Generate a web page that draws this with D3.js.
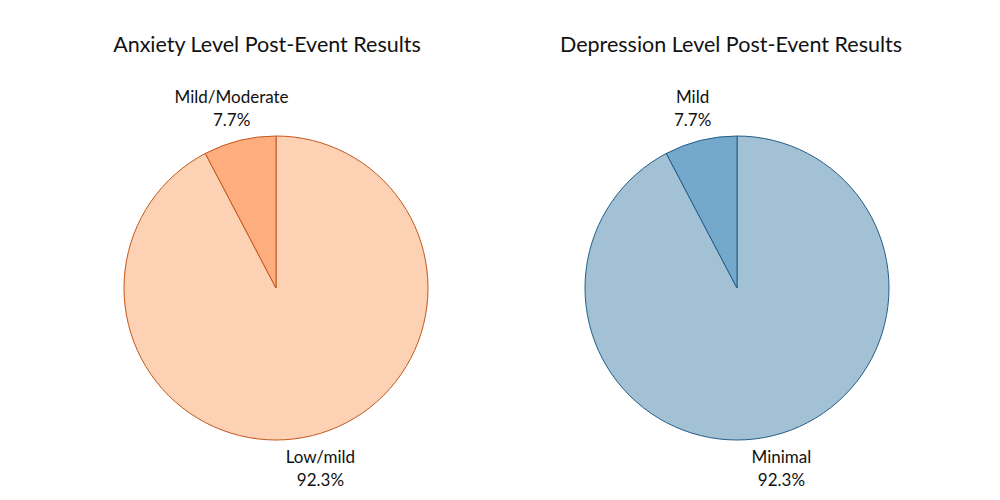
<!DOCTYPE html>
<html><head><meta charset="utf-8">
<script src="https://cdn.jsdelivr.net/npm/d3@7"></script>
<style>body{margin:0;background:#fff}svg{display:block}</style>
</head><body>
<script>
const anxietyTitle = "Anxiety Level Post-Event Results";
const depressionTitle = "Depression Level Post-Event Results";
const anxietyCategories = ["Low/mild", "Mild/Moderate"];
const anxietyValues = [92.3, 7.7];
const depressionCategories = ["Minimal", "Mild"];
const depressionValues = [92.3, 7.7];

const W = 1000, H = 500;
const svg = d3.select("body").append("svg").attr("width", W).attr("height", H);
const font = "Lato, 'Open Sans', sans-serif";

function drawPie(cx, cy, r, title, titleX, cats, vals, fills, stroke) {
  const g = svg.append("g");
  g.append("text").attr("x", titleX).attr("y", 52).attr("text-anchor", "middle")
    .attr("font-family", font).attr("font-size", 21.5).attr("fill", "#111").text(title);
  const pie = d3.pie().sort(null).value(d => d.v);
  const data = pie(cats.map((c, i) => ({c, v: vals[i]})));
  const arc = d3.arc().innerRadius(0).outerRadius(r);
  const pg = g.append("g").attr("transform", `translate(${cx},${cy})`);
  pg.selectAll("path").data(data).join("path")
    .attr("d", arc).attr("fill", (d, i) => fills[i])
    .attr("stroke", stroke).attr("stroke-width", 1);
  const lab = d3.arc().innerRadius(r * 1.22).outerRadius(r * 1.22);
  data.forEach(d => {
    const [x, y] = lab.centroid(d);
    const t = pg.append("text").attr("text-anchor", "middle")
      .attr("font-family", font).attr("font-size", 17).attr("fill", "#111");
    t.append("tspan").attr("x", x).attr("y", y - 5).text(d.data.c);
    t.append("tspan").attr("x", x).attr("y", y + 18).text(d.data.v.toFixed(1) + "%");
  });
}

drawPie(276, 288, 152, anxietyTitle, 267, anxietyCategories, anxietyValues,
  ["#FDD1B3", "#FDAD7E"], "#C2571C");
drawPie(737, 288, 152, depressionTitle, 731, depressionCategories, depressionValues,
  ["#A3C1D4", "#74A9CC"], "#235C88");
</script>
</body></html>
